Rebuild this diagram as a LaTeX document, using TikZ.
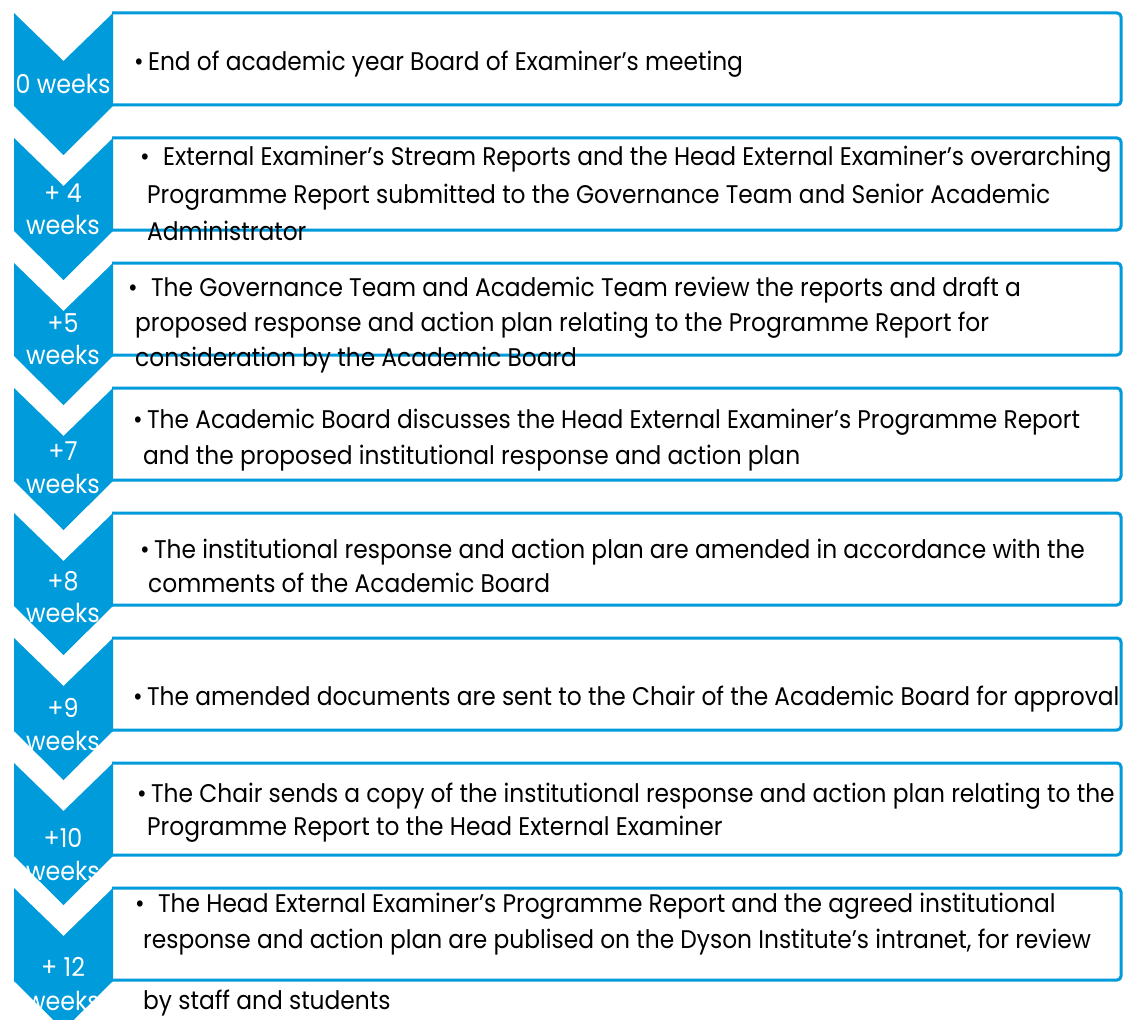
\documentclass[tikz,border=0pt]{standalone}
\usepackage{fontspec}
\setmainfont[FakeStretch=0.915]{Poppins}
\definecolor{chev}{RGB}{0,155,219}
\tikzset{
  chevshape/.style={fill=chev, draw=none},
  boxshape/.style={draw=chev, line width=3pt, fill=white, rounded corners=4pt},
  lbl/.style={text=white, inner sep=0pt, anchor=base, font=\fontsize{26}{30}\selectfont},
  txt/.style={text=black, inner sep=0pt, anchor=base west, font=\fontsize{25.5}{30}\selectfont},
}
\begin{document}
\begin{tikzpicture}[x=1pt,y=-1pt]
\useasboundingbox (0,0) rectangle (1123,1019);
\fill[white] (0,0) rectangle (1123,1019);
\begin{scope}
\clip (0,0) rectangle (1123,1019);
\foreach \T in {13,138,263,388,513,638,763,888}{
  \draw[boxshape] (112,\T) -- (1121,\T) -- (1121,\T+92) -- (112,\T+92);
  \fill[chevshape] (14,\T) -- (63.5,\T+48) -- (113,\T) -- (113,\T+93) -- (63.5,\T+142) -- (14,\T+93) -- cycle;
}
\end{scope}
% chevron labels
\node[lbl] (c1) at (63,94) {0 weeks};
\node[lbl] (c2a) at (63,202) {+ 4};
\node[lbl] (c2b) at (63,234) {weeks};
\node[lbl] (c3a) at (63,332) {+5};
\node[lbl] (c3b) at (63,364) {weeks};
\node[lbl] (c4a) at (63,460) {+7};
\node[lbl] (c4b) at (63,493) {weeks};
\node[lbl] (c5a) at (63,590) {+8};
\node[lbl] (c5b) at (63,622) {weeks};
\node[lbl] (c6a) at (63,717) {+9};
\node[lbl] (c6b) at (63,750) {weeks};
\node[lbl] (c7a) at (63,847) {+10};
\node[lbl] (c7b) at (63,880) {weeks};
\node[lbl] (c8a) at (63,976) {+ 12};
\node[lbl] (c8b) at (63,1010) {weeks};
% box texts
\node[txt] (t1) at (134,71) {•\,End of academic year Board of Examiner's meeting};
\node[txt] (t2a) at (140,165) {•\; External Examiner's Stream Reports and the Head External Examiner's overarching};
\node[txt] (t2b) at (147,203) {Programme Report submitted to the Governance Team and Senior Academic};
\node[txt] (t2c) at (147,240) {Administrator};
\node[txt] (t3a) at (128,296) {•\; The Governance Team and Academic Team review the reports and draft a};
\node[txt] (t3b) at (135,331) {proposed response and action plan relating to the Programme Report for};
\node[txt] (t3c) at (135,366) {consideration by the Academic Board};
\node[txt] (t4a) at (133,428) {•\,The Academic Board discusses the Head External Examiner's Programme Report};
\node[txt] (t4b) at (143,464) {and the proposed institutional response and action plan};
\node[txt] (t5a) at (140,558) {•\,The institutional response and action plan are amended in accordance with the};
\node[txt] (t5b) at (148,592) {comments of the Academic Board};
\node[txt] (t6) at (133,705) {•\,The amended documents are sent to the Chair of the Academic Board for approval};
\node[txt] (t7a) at (137,802) {•\,The Chair sends a copy of the institutional response and action plan relating to the};
\node[txt] (t7b) at (147,835) {Programme Report to the Head External Examiner};
\node[txt] (t8a) at (135,912) {•\; The Head External Examiner's Programme Report and the agreed institutional};
\node[txt] (t8b) at (143,948) {response and action plan are publised on the Dyson Institute's intranet, for review};
\node[txt] (t8c) at (143,1009) {by staff and students};
\end{tikzpicture}
\end{document}
